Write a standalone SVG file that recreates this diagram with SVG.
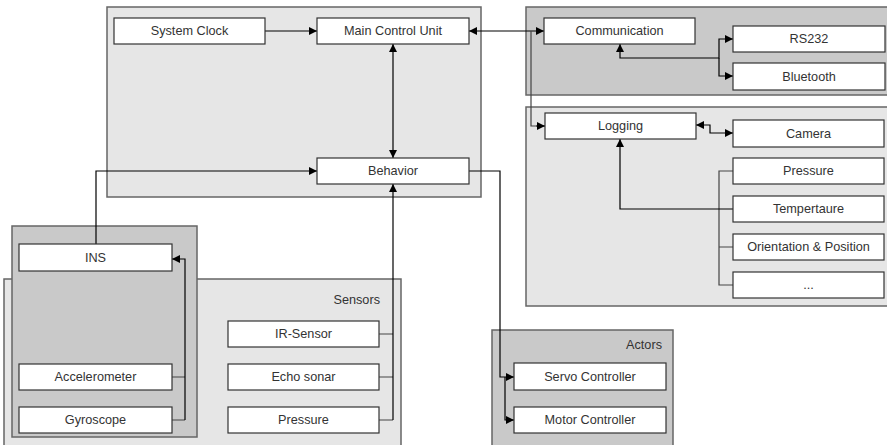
<svg xmlns="http://www.w3.org/2000/svg" width="887" height="445" viewBox="0 0 887 445">
<defs>
<marker id="ah" viewBox="0 0 10 10" refX="10" refY="5" markerWidth="8" markerHeight="8" markerUnits="userSpaceOnUse" orient="auto-start-reverse">
<path d="M0,0 L10,5 L0,10 z" fill="#000"/>
</marker>
<style>
.light{fill:#e6e6e6;stroke:#666;stroke-width:1.5}
.dark{fill:#c9c9c9;stroke:#666;stroke-width:1.5}
.box{fill:#fff;stroke:#333;stroke-width:1.2}
text{font-family:"Liberation Sans",Arial,sans-serif;font-size:12.7px;fill:#333}
.c{text-anchor:middle}
.r{text-anchor:end}
.ln{fill:none;stroke:#444;stroke-width:1.2}
.ar{fill:none;stroke:#000;stroke-width:1.2}
</style>
</defs>
<rect width="887" height="445" fill="#fff"/>

<!-- containers -->
<g id="main-group"><rect class="light" x="107" y="7" width="374" height="190"/></g>
<g id="comm-group"><rect class="dark" x="526" y="7" width="366" height="88"/></g>
<g id="logging-group"><rect class="light" x="526" y="107" width="366" height="199"/></g>
<g id="sensors-group"><rect class="light" x="4" y="279" width="397" height="175"/><text class="r" x="380" y="304">Sensors</text></g>
<g id="ins-group"><rect class="dark" x="12" y="226" width="185" height="211"/></g>
<g id="actors-group"><rect class="dark" x="492" y="330" width="181" height="124"/><text class="r" x="662" y="349">Actors</text></g>

<!-- connectors -->
<g id="connectors">
<path class="ar" d="M265,31 H317" marker-end="url(#ah)"/>
<path class="ar" d="M393,44 V158" marker-start="url(#ah)" marker-end="url(#ah)"/>
<path class="ar" d="M469,31 H544" marker-start="url(#ah)" marker-end="url(#ah)"/>
<path class="ln" d="M531,31 V126 H536"/>
<path class="ar" d="M536,126 H545" marker-end="url(#ah)"/>
<path class="ar" d="M620,44 V58 H719 V39 H733" marker-start="url(#ah)" marker-end="url(#ah)"/>
<path class="ar" d="M719,58 V76 H733" marker-end="url(#ah)"/>
<path class="ar" d="M696,125 H710 V133 H733" marker-start="url(#ah)" marker-end="url(#ah)"/>
<path class="ln" d="M733,171 H719 V285 H733 M719,247 H733"/>
<path class="ar" d="M733,209 H620 V139" marker-end="url(#ah)"/>
<path class="ar" d="M96,244 V171 H317" marker-end="url(#ah)"/>
<path class="ln" d="M172,377 H185 M172,420 H185"/>
<path class="ar" d="M185,420 V259 H172" marker-end="url(#ah)"/>
<path class="ln" d="M379,334 H393 M379,377 H393 M379,420 H393"/>
<path class="ar" d="M393,420 V184" marker-end="url(#ah)"/>
<path class="ar" d="M469,171 H500 V377 H514" marker-end="url(#ah)"/>
<path class="ar" d="M505,377 V420 H514" marker-end="url(#ah)"/>
</g>

<!-- nodes -->
<g id="system-clock"><rect class="box" x="114" y="18" width="151" height="26"/><text class="c" x="189.5" y="35">System Clock</text></g>
<g id="main-control-unit"><rect class="box" x="317" y="18" width="152" height="26"/><text class="c" x="393" y="35">Main Control Unit</text></g>
<g id="behavior"><rect class="box" x="317" y="158" width="152" height="26"/><text class="c" x="393" y="175">Behavior</text></g>
<g id="communication"><rect class="box" x="544" y="18" width="151" height="26"/><text class="c" x="619.5" y="35">Communication</text></g>
<g id="rs232"><rect class="box" x="733" y="26" width="152" height="26"/><text class="c" x="809" y="43">RS232</text></g>
<g id="bluetooth"><rect class="box" x="733" y="63" width="152" height="27"/><text class="c" x="809" y="81">Bluetooth</text></g>
<g id="logging"><rect class="box" x="545" y="113" width="151" height="26"/><text class="c" x="620.5" y="130">Logging</text></g>
<g id="camera"><rect class="box" x="733" y="120" width="151" height="27"/><text class="c" x="808.5" y="138">Camera</text></g>
<g id="log-pressure"><rect class="box" x="733" y="158" width="151" height="26"/><text class="c" x="808.5" y="175">Pressure</text></g>
<g id="temperature"><rect class="box" x="733" y="196" width="151" height="26"/><text class="c" x="808.5" y="213">Tempertaure</text></g>
<g id="orientation"><rect class="box" x="733" y="234" width="151" height="26"/><text class="c" x="808.5" y="251">Orientation &amp; Position</text></g>
<g id="more"><rect class="box" x="733" y="272" width="151" height="26"/><text class="c" x="808.5" y="289">...</text></g>
<g id="ins"><rect class="box" x="19" y="244" width="153" height="27"/><text class="c" x="95.5" y="262">INS</text></g>
<g id="accelerometer"><rect class="box" x="19" y="364" width="153" height="26"/><text class="c" x="95.5" y="381">Accelerometer</text></g>
<g id="gyroscope"><rect class="box" x="19" y="407" width="153" height="26"/><text class="c" x="95.5" y="424">Gyroscope</text></g>
<g id="ir-sensor"><rect class="box" x="228" y="321" width="151" height="26"/><text class="c" x="303.5" y="338">IR-Sensor</text></g>
<g id="echo-sonar"><rect class="box" x="228" y="364" width="151" height="26"/><text class="c" x="303.5" y="381">Echo sonar</text></g>
<g id="sensor-pressure"><rect class="box" x="228" y="407" width="151" height="26"/><text class="c" x="303.5" y="424">Pressure</text></g>
<g id="servo-controller"><rect class="box" x="514" y="363" width="152" height="27"/><text class="c" x="590" y="381">Servo Controller</text></g>
<g id="motor-controller"><rect class="box" x="514" y="407" width="152" height="26"/><text class="c" x="590" y="424">Motor Controller</text></g>
</svg>
